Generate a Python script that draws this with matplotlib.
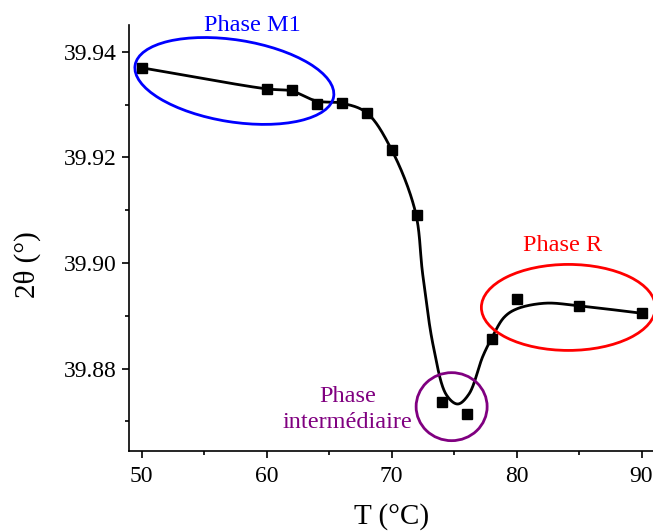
import numpy as np
import matplotlib
matplotlib.use('Agg')
import matplotlib.pyplot as plt
from matplotlib.patches import Ellipse
from matplotlib.transforms import ScaledTranslation
from matplotlib.ticker import MultipleLocator, FormatStrFormatter

# measured points
temps = [50, 60, 62, 64, 66, 68, 70, 72, 74, 76, 78, 80, 85, 90]
two_theta = [39.9370, 39.9329, 39.9327, 39.9302, 39.9304, 39.9285, 39.9215,
             39.9092, 39.8737, 39.8715, 39.8857, 39.8931, 39.8919, 39.8905]

# smoothed guide curve
curve_t = [50, 60, 62, 64, 66, 68, 70, 71.9, 72.5, 73.35, 74.4, 75.3, 76.2,
           77.3, 78, 79, 80, 82.3, 85, 90]
curve_y = [39.9370, 39.9330, 39.9326, 39.9307, 39.9303, 39.9285, 39.9215,
           39.9098, 39.8978, 39.8842, 39.8750, 39.8733, 39.8752,
           39.8823, 39.8857, 39.8897, 39.8913, 39.8924, 39.8919, 39.8905]


def catmull_rom(xk, yk, sx=12.5, sy=5280.0, n=40, alpha=0.5):
    # catmull-rom in (roughly) pixel space so steep parts stay smooth
    p = np.column_stack([np.asarray(xk) * sx, np.asarray(yk) * sy])
    p = np.vstack([2 * p[0] - p[1], p, 2 * p[-1] - p[-2]])
    out = []
    for i in range(1, len(p) - 2):
        p0, p1, p2, p3 = p[i - 1], p[i], p[i + 1], p[i + 2]
        t0 = 0.0
        t1 = t0 + np.linalg.norm(p1 - p0) ** alpha
        t2 = t1 + np.linalg.norm(p2 - p1) ** alpha
        t3 = t2 + np.linalg.norm(p3 - p2) ** alpha
        t = np.linspace(t1, t2, n)[:, None]
        a1 = (t1 - t) / (t1 - t0) * p0 + (t - t0) / (t1 - t0) * p1
        a2 = (t2 - t) / (t2 - t1) * p1 + (t - t1) / (t2 - t1) * p2
        a3 = (t3 - t) / (t3 - t2) * p2 + (t - t2) / (t3 - t2) * p3
        b1 = (t2 - t) / (t2 - t0) * a1 + (t - t0) / (t2 - t0) * a2
        b2 = (t3 - t) / (t3 - t1) * a2 + (t - t1) / (t3 - t1) * a3
        c = (t2 - t) / (t2 - t1) * b1 + (t - t1) / (t2 - t1) * b2
        out.append(c)
    out = np.vstack(out)
    return out[:, 0] / sx, out[:, 1] / sy


plt.rcParams['font.family'] = ['Liberation Serif', 'DejaVu Serif']

fig = plt.figure(figsize=(6.53, 5.31), dpi=100)
ax = fig.add_axes([129 / 653, 80 / 531, 525 / 653, 426 / 531])

xs, ys = catmull_rom(curve_t, curve_y)
ax.plot(xs, ys, color='black', lw=2.0, zorder=2)
ax.plot(temps, two_theta, ls='none', marker='s', ms=6.5, color='black', zorder=3)

ax.set_xlim(49, 91)
ax.set_ylim(39.8644, 39.9451)
ax.xaxis.set_major_locator(MultipleLocator(10))
ax.xaxis.set_minor_locator(MultipleLocator(5))
ax.yaxis.set_major_locator(MultipleLocator(0.02))
ax.yaxis.set_minor_locator(MultipleLocator(0.01))
ax.yaxis.set_major_formatter(FormatStrFormatter('%.2f'))

for s in ['top', 'right']:
    ax.spines[s].set_visible(False)
for s in ['left', 'bottom']:
    ax.spines[s].set_linewidth(1.2)
ax.tick_params(which='major', direction='out', length=5, width=1.2,
               labelsize=17, pad=4)
ax.tick_params(which='minor', direction='out', length=3, width=1.2)
ax.tick_params(axis='x', pad=6)

ax.set_xlabel('T (°C)', fontsize=21)
ax.xaxis.set_label_coords(0.5, -0.122)
ax.set_ylabel('2θ (°)', fontsize=21)
ax.yaxis.set_label_coords(-0.168, 0.437)

# phase annotations
def ring(cx, cy, w, h, ang, col):
    tr = fig.dpi_scale_trans + ScaledTranslation(cx, cy, ax.transData)
    e = Ellipse((0, 0), w / 100, h / 100, angle=ang, transform=tr,
                fill=False, edgecolor=col, lw=2.0, clip_on=False, zorder=4)
    ax.add_artist(e)

ring(57.43, 39.9345, 201, 82, -9, '#0000ff')
ring(84.15, 39.8916, 174, 86, 0, '#ff0000')
ring(74.81, 39.8728, 71, 68, 0, '#800080')

ax.text(58.83, 39.9451, 'Phase M1', color='#0000ff', fontsize=17.5,
        ha='center', va='center', clip_on=False)
ax.text(83.71, 39.9034, 'Phase R', color='#ff0000', fontsize=17.5,
        ha='center', va='center', clip_on=False)
ax.text(66.46, 39.8723, 'Phase\nintermédiaire', color='#800080', fontsize=17.5,
        ha='center', va='center', multialignment='center', linespacing=1.3)

fig.savefig('out.png', dpi=100)
